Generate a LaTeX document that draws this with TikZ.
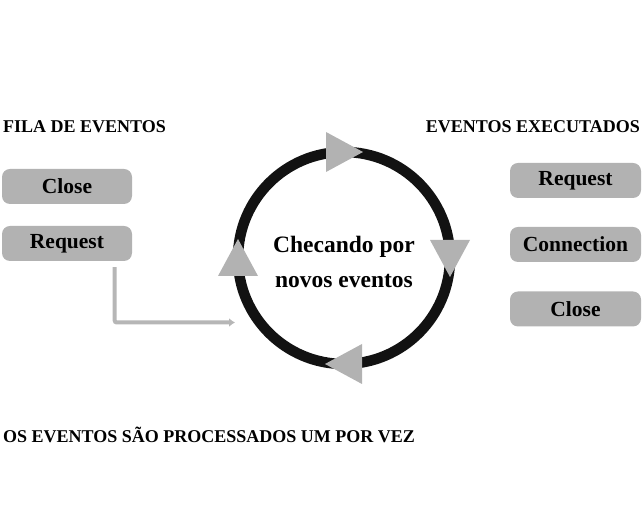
\documentclass[tikz,border=0pt]{standalone}
\usepackage{fontspec}
\setmainfont{Liberation Serif}
\usetikzlibrary{arrows.meta,calc}
\definecolor{evgray}{RGB}{178,178,178}
\definecolor{flowgray}{RGB}{182,182,182}
\definecolor{ringblack}{RGB}{18,18,18}
\begin{document}
\begin{tikzpicture}[x=1pt,y=1pt,
  event/.style={rectangle,rounded corners=8pt,fill=evgray,minimum width=130pt,minimum height=35pt,inner sep=0pt,font=\fontsize{21.5}{24}\selectfont\bfseries},
  title/.style={inner sep=0pt,font=\fontsize{18}{21}\selectfont\bfseries}]
\useasboundingbox (0,0) rectangle (643,524);
% titulos
\node [title,anchor=base west] (fila) at (3,391) {FILA DE EVENTOS};
\node [title,anchor=base east] (exec) at (640,391) {EVENTOS EXECUTADOS};
\node [title,anchor=base west] (nota) at (3,81) {OS EVENTOS SÃO PROCESSADOS UM POR VEZ};
% fila
\node [event] (fclose) at (67,337.5) {Close};
\node [event] (freq) at (67,280.5) {Request};
% executados
\node [event,minimum width=131pt] (ereq) at (575.5,343.5) {Request};
\node [event,minimum width=131pt] (econn) at (575.5,279.5) {Connection};
\node [event,minimum width=131pt] (eclose) at (575.5,215) {Close};
% loop
\node [circle,draw=ringblack,line width=10.5pt,minimum size=212pt,inner sep=0pt] (ring) at (344,266) {};
\node [align=center,inner sep=0pt,font=\fontsize{23.5}{35}\selectfont\bfseries] (loop) at ($(ring.center)+(0,-4)$) {Checando por\\novos eventos};
\foreach \a in {0,90,180,270}
  \fill [evgray,shift={($(ring.center)+(\a:106)$)},rotate=\a-90] (19,0) -- (-18,20) -- (-18,-20) -- cycle;
\coordinate (into) at (235,201.5);
\draw [flowgray,line width=4pt,rounded corners=2pt,-{Latex[length=6pt,width=9pt]}] ($(freq.south)+(47.7,-6)$) |- (into);
\end{tikzpicture}
\end{document}
